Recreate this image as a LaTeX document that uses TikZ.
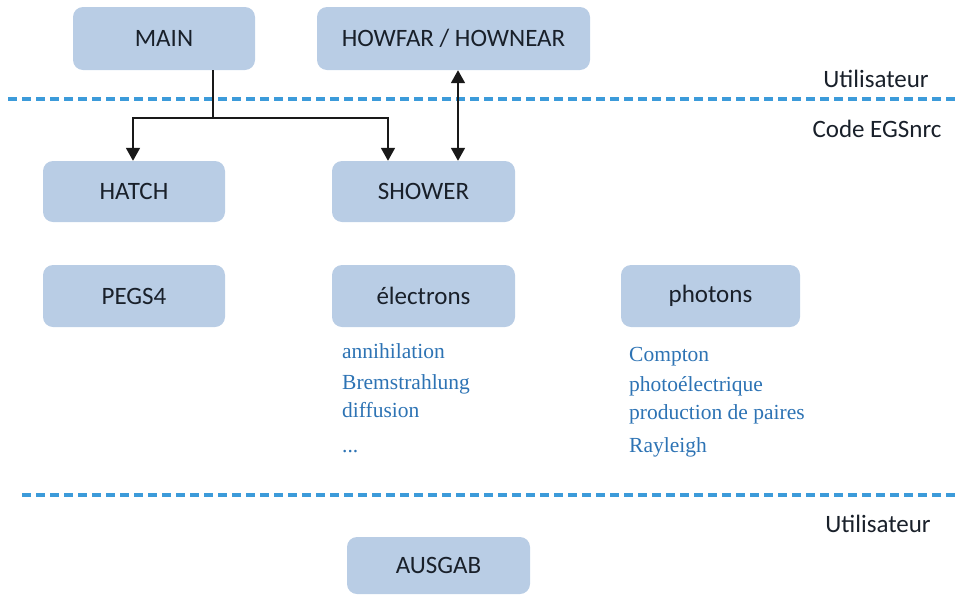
\documentclass[tikz,border=0pt]{standalone}
\usepackage{fontspec}
\setmainfont{Carlito}
\newfontfamily\serifblue{Liberation Serif}
\usetikzlibrary{arrows.meta}
\definecolor{boxfill}{RGB}{185,205,229}
\definecolor{boxtext}{RGB}{25,32,42}
\definecolor{procblue}{RGB}{45,115,180}
\definecolor{sepblue}{RGB}{60,155,218}
\tikzset{
  box/.style={rectangle, rounded corners=10pt, fill=boxfill, text=boxtext,
    font=\fontsize{25}{30}\selectfont, inner sep=0pt, minimum height=62pt},
  conn/.style={draw=black!90, line width=1.8pt},
  tip/.style={-{Triangle[width=14pt,length=13pt]}},
  dtip/.style={{Triangle[width=14pt,length=13pt]}-{Triangle[width=14pt,length=13pt]}},
  sep/.style={draw=sepblue, line width=4pt, dash pattern=on 9pt off 5pt},
  lbl/.style={text=boxtext, font=\fontsize{25}{30}\selectfont, inner sep=0pt, anchor=base},
  proc/.style={text=procblue, font=\serifblue\fontsize{21.5}{26}\selectfont, inner sep=0pt, anchor=base west}
}
\begin{document}
\begin{tikzpicture}[x=1pt,y=-1pt]
\useasboundingbox (0,0) rectangle (962,595);
% boxes
\node[box, minimum width=182pt, minimum height=63pt] (main) at (164,38.5) {MAIN};
\node[box, minimum width=273pt, minimum height=63pt] (howfar) at (453.5,38.5) {HOWFAR / HOWNEAR};
\node[box, minimum width=182pt, minimum height=61pt] (hatch) at (134,191.5) {HATCH};
\node[box, minimum width=183pt, minimum height=61pt] (shower) at (423.5,191.5) {SHOWER};
\node[box, minimum width=182pt] (pegs) at (134,296) {PEGS4};
\node[box, minimum width=183pt] (electrons) at (423.5,296) {électrons};
\node[box, minimum width=179pt] (photons) at (710.5,296) {photons};
\node[box, minimum width=183pt, minimum height=57pt] (ausgab) at (438.5,565.5) {AUSGAB};
% separators
\coordinate (s1a) at (8,99);
\coordinate (s1b) at (956,99);
\coordinate (s2a) at (22,495);
\coordinate (s2b) at (956,495);
\draw[sep] (s1a) -- (s1b);
\draw[sep] (s2a) -- (s2b);
% side labels
\node[lbl] (u1) at (876,87) {Utilisateur};
\node[lbl] (code) at (877,137) {Code EGSnrc};
\node[lbl] (u2) at (878,532) {Utilisateur};
% connectors
\coordinate (j) at (213,118);
\coordinate (hl) at (133,118);
\coordinate (hr) at (388,118);
\coordinate (dd) at (458,0);
\draw[conn] (main.south -| j) -- (j);
\draw[conn, tip] (j) -- (hl) -- (hatch.north -| hl);
\draw[conn, tip] (j) -- (hr) -- (shower.north -| hr);
\draw[conn, dtip] (howfar.south -| dd) -- (shower.north -| dd);
% process lists
\node[proc] (e1) at (342,358) {annihilation};
\node[proc] (e2) at (342,389) {Bremstrahlung};
\node[proc] (e3) at (342,417) {diffusion};
\node[proc] (e4) at (342,452) {...};
\node[proc] (p1) at (629,361) {Compton};
\node[proc] (p2) at (629,391) {photoélectrique};
\node[proc] (p3) at (629,419) {production de paires};
\node[proc] (p4) at (629,452) {Rayleigh};
\end{tikzpicture}
\end{document}
